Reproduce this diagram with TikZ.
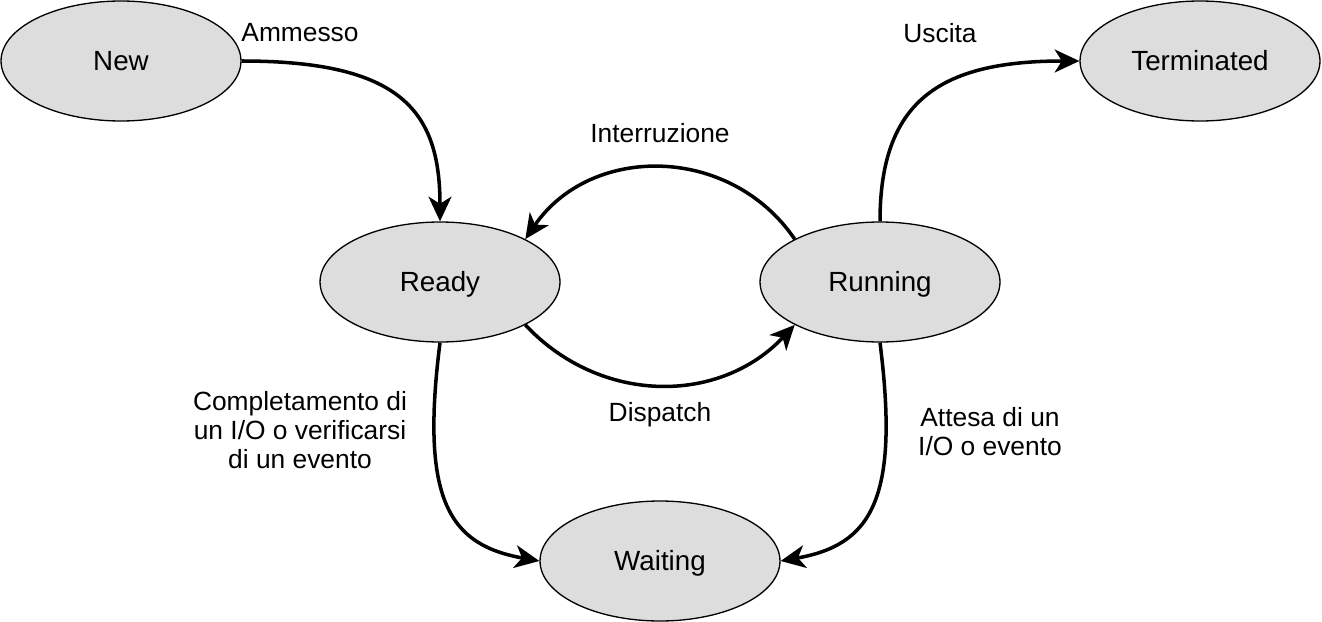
\documentclass[tikz,border=0pt]{standalone}
\usepackage{fontspec}
\setmainfont{Liberation Sans}
\usepackage{xcolor}
\usepackage{tikz}
\usetikzlibrary{shapes,arrows,positioning,calc,arrows.meta}

\definecolor{stategray}{HTML}{DDDDDD}
\tikzset{
    state/.style={ellipse, draw, line width=0.75pt, fill=stategray, minimum width=4.8cm, minimum height=2.4cm, inner sep=0pt,
        font=\fontsize{15.8}{18}\selectfont, text height=1.1em, text depth=0pt},
    trans/.style={line width=2pt, -{Stealth[length=14pt, width=13pt, inset=4pt]}},
    lbl/.style={inner sep=0pt}
}

\begin{document}
\begin{tikzpicture}[x=0.02cm, y=-0.02cm, font=\fontsize{15}{16.5}\selectfont]
        \useasboundingbox (0,0) rectangle (1322,622);
        % States
        \node[state] (new) at (121,61) {New};
        \node[state] (term) at (1200,61) {Terminated};
        \node[state] (ready) at (440,282) {Ready};
        \node[state] (run) at (880,282) {Running};
        \node[state] (wait) at (660,561) {Waiting};

        % Transitions
        \draw[trans] (new.east) .. controls +(160,0) and +(0,-110) .. (ready.north);
        \draw[trans] (run.north) .. controls +(0,-120) and +(-140,0) .. (term.west);
        \draw[trans] (run.north west) .. controls +(-65,-95) and +(65,-95) .. (ready.north east);
        \draw[trans] (ready.south east) .. controls +(75,80) and +(-75,80) .. (run.south west);
        \draw[trans] (ready.south) .. controls +(-20,158) and +(-90,-16) .. (wait.west);
        \draw[trans] (run.south) .. controls +(20,158) and +(90,-16) .. (wait.east);

        % Labels
        \node[lbl] (lblammesso) at (300,33) {Ammesso};
        \node[lbl] (lbluscita) at (940,33) {Uscita};
        \node[lbl] (lblinterr) at (660,133) {Interruzione};
        \node[lbl] (lbldispatch) at (660,415) {Dispatch};
        \node[lbl, align=center] (lblcompl) at (300,430) {Completamento di\\un I/O o verificarsi\\di un evento};
        \node[lbl, align=center] (lblattesa) at (990,432) {Attesa di un\\I/O o evento};
    \end{tikzpicture}
\end{document}
